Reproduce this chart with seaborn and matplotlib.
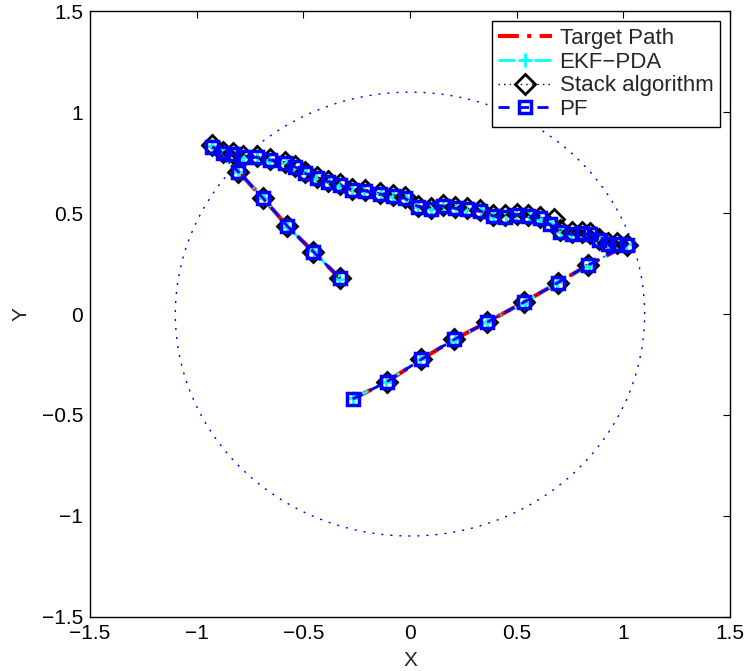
import numpy as np
import pandas as pd
import matplotlib
matplotlib.use("Agg")
import matplotlib.pyplot as plt
import seaborn as sns

# ---------------- data ----------------
target_x = [-0.269, -0.109, 0.052, 0.208, 0.362, 0.536, 0.692, 0.836, 1.016,
            0.972, 0.930, 0.887, 0.844, 0.805, 0.758, 0.703, 0.656, 0.609, 0.555,
            0.500, 0.445, 0.391, 0.328, 0.266, 0.211, 0.156, 0.097, 0.039, -0.023,
            -0.078, -0.141, -0.211, -0.273, -0.328, -0.383, -0.437, -0.492, -0.539,
            -0.586, -0.656, -0.719, -0.781, -0.828, -0.875, -0.930,
            -0.805, -0.688, -0.575, -0.453, -0.328]
target_y = [-0.421, -0.336, -0.225, -0.125, -0.040, 0.060, 0.155, 0.243, 0.342,
            0.346, 0.347, 0.367, 0.395, 0.400, 0.395, 0.408, 0.445, 0.476, 0.486,
            0.491, 0.483, 0.486, 0.512, 0.519, 0.524, 0.536, 0.521, 0.532, 0.574,
            0.585, 0.595, 0.611, 0.615, 0.640, 0.656, 0.673, 0.698, 0.730,
            0.747, 0.764, 0.777, 0.780, 0.792, 0.797, 0.830,
            0.706, 0.574, 0.436, 0.309, 0.177]

ekf_x = [-0.266, -0.112, 0.049, 0.212, 0.359, 0.540, 0.689, 0.840, 1.012,
         0.975, 0.927, 0.890, 0.841, 0.808, 0.755, 0.706, 0.660, 0.606, 0.558,
         0.497, 0.448, 0.388, 0.331, 0.263, 0.214, 0.153, 0.100, 0.036, -0.020,
         -0.081, -0.138, -0.214, -0.270, -0.331, -0.380, -0.440, -0.489, -0.542,
         -0.583, -0.659, -0.716, -0.784, -0.825, -0.878, -0.927,
         -0.808, -0.685, -0.578, -0.450, -0.331]
ekf_y = [-0.418, -0.339, -0.222, -0.128, -0.037, 0.057, 0.158, 0.240, 0.345,
         0.343, 0.350, 0.364, 0.398, 0.397, 0.398, 0.405, 0.448, 0.473, 0.489,
         0.488, 0.486, 0.483, 0.515, 0.516, 0.527, 0.533, 0.524, 0.529, 0.577,
         0.582, 0.598, 0.608, 0.618, 0.637, 0.659, 0.670, 0.701, 0.727,
         0.750, 0.761, 0.780, 0.777, 0.795, 0.794, 0.833,
         0.703, 0.577, 0.433, 0.312, 0.174]

stack_x = [-0.109, 0.052, 0.208, 0.362, 0.536, 0.692, 0.836, 1.016,
           0.972, 0.930, 0.887, 0.844, 0.805, 0.758, 0.703, 0.675, 0.609, 0.555,
           0.500, 0.445, 0.391, 0.328, 0.266, 0.211, 0.156, 0.097, 0.039, -0.023,
           -0.078, -0.141, -0.211, -0.273, -0.328, -0.383, -0.437, -0.492, -0.539,
           -0.586, -0.656, -0.719, -0.781, -0.828, -0.875, -0.930,
           -0.805, -0.688, -0.575, -0.453, -0.328]
stack_y = [-0.336, -0.225, -0.125, -0.040, 0.060, 0.155, 0.243, 0.342,
           0.352, 0.353, 0.372, 0.400, 0.405, 0.405, 0.418, 0.470, 0.480, 0.492,
           0.497, 0.490, 0.492, 0.518, 0.525, 0.530, 0.542, 0.527, 0.538, 0.580,
           0.591, 0.601, 0.617, 0.621, 0.646, 0.662, 0.680, 0.704, 0.736,
           0.753, 0.770, 0.783, 0.786, 0.798, 0.803, 0.836,
           0.706, 0.574, 0.436, 0.309, 0.177]

pf_x = target_x
pf_y = target_y

sensor_radius = 1.1

labels = ["Target Path", "EKF\u2212PDA", "Stack algorithm", "PF"]

# ---------------- plotting ----------------
sns.set_theme(style="white")
plt.rcParams['font.family'] = ['Liberation Sans', 'DejaVu Sans']
plt.rcParams['axes.unicode_minus'] = True

fig = plt.figure(figsize=(7.48, 6.71), dpi=100)
ax = fig.add_axes([0.1203, 0.0809, 0.8556, 0.902])

theta = np.linspace(0, 2 * np.pi, 400)
circle = pd.DataFrame({"x": sensor_radius * np.cos(theta),
                       "y": sensor_radius * np.sin(theta)})
sns.lineplot(data=circle, x="x", y="y", sort=False, estimator=None, ax=ax,
             color="blue", linestyle=(0, (1.5, 5)), linewidth=1.0)

handles = []
sns.lineplot(x=target_x, y=target_y, sort=False, estimator=None, ax=ax,
             color="red", linestyle=(0, (5, 2, 1, 2)), linewidth=3.0)
handles.append(ax.lines[-1])
sns.lineplot(x=ekf_x, y=ekf_y, sort=False, estimator=None, ax=ax,
             color="cyan", linestyle=(0, (6, 3, 1, 3)), linewidth=2.0,
             marker="+", markersize=10, markeredgewidth=2,
             markeredgecolor="cyan")
handles.append(ax.lines[-1])
sns.lineplot(x=stack_x, y=stack_y, sort=False, estimator=None, ax=ax,
             color="black", linestyle=(0, (1, 3)), linewidth=1.0,
             marker="D", markersize=10, markeredgewidth=2,
             markerfacecolor="none", markeredgecolor="black")
handles.append(ax.lines[-1])
sns.lineplot(x=pf_x, y=pf_y, sort=False, estimator=None, ax=ax,
             color="blue", linestyle=(0, (4, 3)), linewidth=2.0,
             marker="s", markersize=8, markeredgewidth=2.5,
             markerfacecolor="none", markeredgecolor="blue")
handles.append(ax.lines[-1])

ax.set_xlim(-1.5, 1.5)
ax.set_ylim(-1.5, 1.5)
ticks = [-1.5, -1, -0.5, 0, 0.5, 1, 1.5]
ticklabels = ["\u22121.5", "\u22121", "\u22120.5", "0", "0.5", "1", "1.5"]
ax.set_xticks(ticks)
ax.set_xticklabels(ticklabels)
ax.set_yticks(ticks)
ax.set_yticklabels(ticklabels)
ax.tick_params(direction="in", top=True, right=True, length=5, width=0.8,
               labelsize=15, pad=5, colors="black")
for s in ax.spines.values():
    s.set_color("black")
    s.set_linewidth(1.0)
ax.set_xlabel("X", fontsize=15, labelpad=6)
ax.set_ylabel("Y", fontsize=15, labelpad=8)

leg = ax.legend(handles=handles, labels=labels, loc="upper right",
                fontsize=16, frameon=True, fancybox=False, edgecolor="black",
                framealpha=1, handlelength=2.4, numpoints=1,
                borderaxespad=0.45, labelspacing=0.12, handletextpad=0.35,
                borderpad=0.3)
leg.get_frame().set_linewidth(1.0)

fig.savefig("out.png", dpi=100)
